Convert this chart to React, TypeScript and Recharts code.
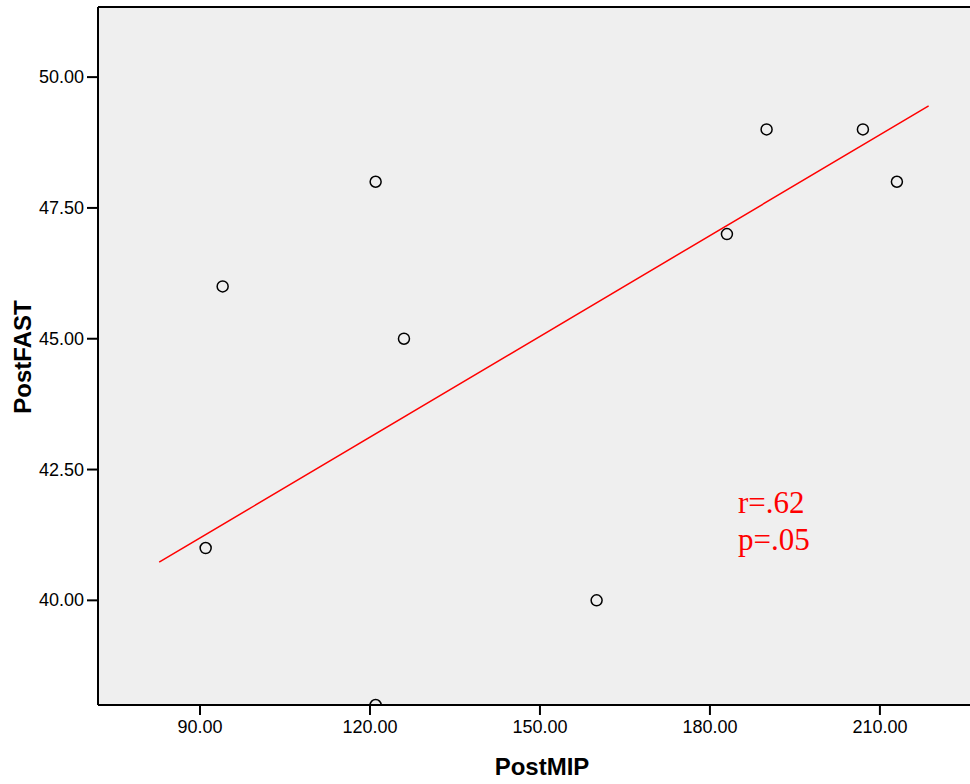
import {
  ScatterChart,
  Scatter,
  XAxis,
  YAxis,
  CartesianGrid,
  ReferenceLine,
} from 'recharts'

// PostMIP vs PostFAST observations
const postMip = [91, 94, 121, 121, 126, 160, 183, 190, 207, 213]
const postFast = [41, 46, 48, 38, 45, 40, 47, 49, 49, 48]

// fit line end points
const fitMip = [82.8, 218.6]
const fitFast = [40.73, 49.45]

const xTicks = [90, 120, 150, 180, 210]
const yTicks = [40, 42.5, 45, 47.5, 50]

const points = postMip.map((x, i) => ({ x, y: postFast[i] }))
const fitLine = fitMip.map((x, i) => ({ x, y: fitFast[i] }))

const FONT = '"Liberation Sans", Arial, sans-serif'

const OpenCircle = (props: any) => (
  <circle
    cx={props.cx}
    cy={props.cy}
    r={5.5}
    fill="none"
    stroke="#000"
    strokeWidth={1.5}
  />
)

const XTick = (props: any) => (
  <text
    x={props.x}
    y={props.y + 15}
    textAnchor="middle"
    fontSize={18}
    fontFamily={FONT}
    fill="#000"
  >
    {Number(props.payload.value).toFixed(2)}
  </text>
)

const YTick = (props: any) => (
  <text
    x={props.x - 1}
    y={props.y + 6}
    textAnchor="end"
    fontSize={18}
    fontFamily={FONT}
    fill="#000"
  >
    {Number(props.payload.value).toFixed(2)}
  </text>
)

export default function App() {
  return (
    <div style={{ position: 'absolute', left: 0, top: 0, width: 970, height: 784 }}>
      <ScatterChart
        width={970}
        height={784}
        margin={{ top: 7, right: 0, bottom: 0, left: 0 }}
      >
        <CartesianGrid
          fill="#efefef"
          stroke="none"
          horizontal={false}
          vertical={false}
        />
        <XAxis
          type="number"
          dataKey="x"
          domain={[72, 225.9]}
          ticks={xTicks}
          height={79}
          tickSize={10}
          tickMargin={3}
          axisLine={{ stroke: '#000', strokeWidth: 2 }}
          tickLine={{ stroke: '#000', strokeWidth: 2 }}
          tick={<XTick />}
          allowDataOverflow
          label={{
            content: ({ viewBox }: any) => (
              <text
                x={viewBox.x + viewBox.width / 2 + 8}
                y={766}
                textAnchor="middle"
                dominantBaseline="central"
                fontSize={24}
                fontWeight="bold"
                fontFamily={FONT}
                fill="#000"
              >
                PostMIP
              </text>
            ),
          }}
        />
        <YAxis
          type="number"
          dataKey="y"
          domain={[38, 51.34]}
          ticks={yTicks}
          width={98}
          tickSize={11}
          tickMargin={2}
          axisLine={{ stroke: '#000', strokeWidth: 2 }}
          tickLine={{ stroke: '#000', strokeWidth: 2 }}
          tick={<YTick />}
          allowDataOverflow
          label={{
            content: ({ viewBox }: any) => (
              <text
                x={22}
                y={viewBox.y + viewBox.height / 2 + 1}
                textAnchor="middle"
                dominantBaseline="central"
                transform={`rotate(-90, 22, ${viewBox.y + viewBox.height / 2 + 1})`}
                fontSize={24}
                fontWeight="bold"
                fontFamily={FONT}
                fill="#000"
              >
                PostFAST
              </text>
            ),
          }}
        />
        <ReferenceLine y={51.34} stroke="#000" strokeWidth={2} />
        <Scatter
          data={fitLine}
          line={{ stroke: '#ff0000', strokeWidth: 1.5 }}
          shape={() => null}
          isAnimationActive={false}
          legendType="none"
        />
        <Scatter
          data={points}
          shape={OpenCircle}
          isAnimationActive={false}
        />
      </ScatterChart>
      <div
        style={{
          position: 'absolute',
          left: 738,
          top: 484,
          color: '#ff0000',
          fontFamily: '"Liberation Serif", "Times New Roman", serif',
          fontSize: 31,
          lineHeight: '37px',
        }}
      >
        r=.62
        <br />
        p=.05
      </div>
    </div>
  )
}
